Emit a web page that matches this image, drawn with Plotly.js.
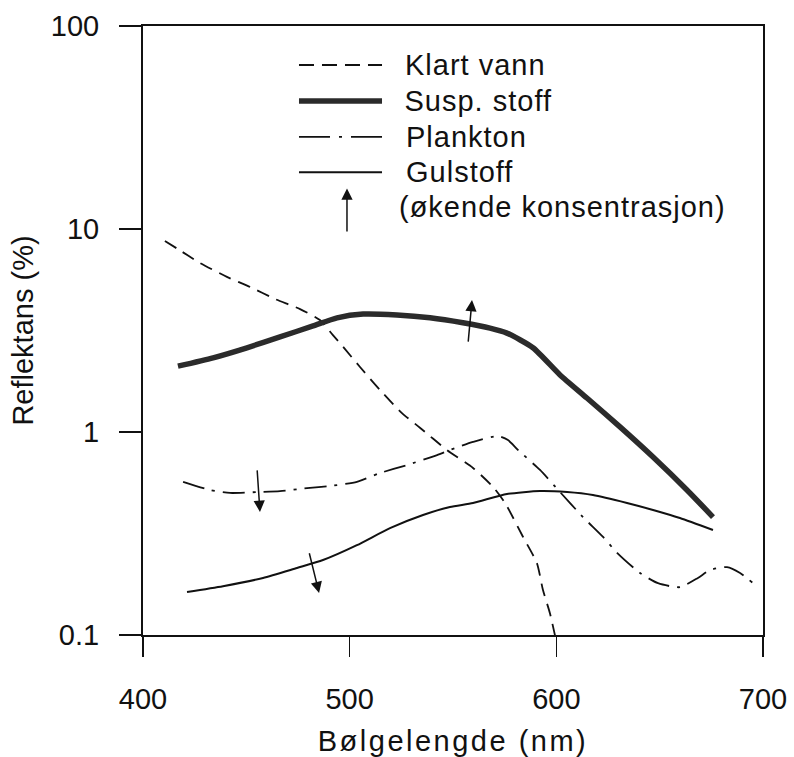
<!DOCTYPE html>
<html>
<head>
<meta charset="utf-8">
<script src="https://cdn.plot.ly/plotly-3.0.1.min.js"></script>
<style>
html,body{margin:0;padding:0;background:#fff;}
#chart{width:794px;height:757px;}
#chart .g-xtitle text{letter-spacing:2.5px;}
#chart .annotation-text{letter-spacing:1px;}
</style>
</head>
<body>
<div id="chart"></div>
<script>
// Klart vann (clear water)
const klartX = [410.6, 416.9, 427.6, 440.6, 451.8, 463.9, 476.0, 485.6, 491.9, 496.8, 505.0, 514.7, 525.3, 534.0, 547.1, 559.7, 569.4, 575.2, 583.9, 590.6, 593.5, 596.9, 599.5];
const klartY = [8.73, 7.96, 6.8, 5.81, 5.18, 4.52, 4.03, 3.56, 3.0, 2.63, 2.09, 1.61, 1.24, 1.05, 0.815, 0.665, 0.536, 0.447, 0.304, 0.226, 0.167, 0.128, 0.098];
// Susp. stoff (suspended matter)
const suspX = [416.9, 433.9, 450.3, 466.3, 482.3, 493.9, 506.5, 522.9, 538.9, 554.8, 567.9, 576.1, 588.7, 601.8, 614.8, 630.8, 646.8, 663.2, 675.8];
const suspY = [2.11, 2.32, 2.60, 2.94, 3.33, 3.65, 3.81, 3.77, 3.65, 3.45, 3.25, 3.07, 2.60, 1.91, 1.47, 1.06, 0.753, 0.518, 0.381];
// Plankton
const planktonX = [419.4, 432.4, 442.1, 455.2, 466.3, 479.4, 490.5, 503.5, 514.7, 527.7, 542.3, 548.5, 559.7, 571.8, 576.6, 581.5, 592.1, 601.8, 612.9, 622.6, 629.4, 640.5, 649.2, 659.8, 668.5, 674.4, 682.6, 688.9, 695.2];
const planktonY = [0.568, 0.518, 0.501, 0.506, 0.511, 0.529, 0.542, 0.568, 0.628, 0.687, 0.770, 0.815, 0.893, 0.955, 0.913, 0.815, 0.650, 0.506, 0.381, 0.304, 0.254, 0.202, 0.180, 0.172, 0.191, 0.209, 0.216, 0.202, 0.180];
// Gulstoff (yellow substance)
const gulX = [421.3, 438.7, 458.1, 474.5, 487.1, 503.5, 519.5, 535.5, 548.5, 559.7, 576.1, 592.1, 605.2, 617.7, 634.2, 646.8, 659.8, 675.8];
const gulY = [0.163, 0.174, 0.191, 0.214, 0.234, 0.277, 0.336, 0.390, 0.427, 0.447, 0.495, 0.512, 0.506, 0.489, 0.447, 0.413, 0.377, 0.329];

// Arrows showing increasing concentration: [tailX, tailY, headX, headY]
const arrowSusp = [557.3, 2.74, 559.2, 4.47];
const arrowPlankton = [455.2, 0.658, 456.6, 0.404];
const arrowGul = [480.3, 0.257, 485.2, 0.161];

// Legend labels
const legendLabels = ["Klart vann", "Susp. stoff", "Plankton", "Gulstoff", "(økende konsentrasjon)"];

const xTicks = [400, 500, 600, 700];
const yTicks = [0.1, 1, 10, 100];
const yTickText = ["0.1", "1", "10", "100"];

const FONT = "'Liberation Sans', Arial, Helvetica, sans-serif";
const lineStyles = [
  {color: '#111', width: 1.8, dash: '13px,8px'},
  {color: '#2b2b2b', width: 5.5, dash: 'solid'},
  {color: '#111', width: 1.8, dash: '22px,8px,3px,8px'},
  {color: '#111', width: 2, dash: 'solid'}
];
const legendDash = ['15px,8px', 'solid', '31px,9px,3px,9px,60px', 'solid'];

const seriesX = [klartX, suspX, planktonX, gulX];
const seriesY = [klartY, suspY, planktonY, gulY];
const traces = seriesX.map((xs, i) => ({
  type: 'scatter', mode: 'lines', x: xs, y: seriesY[i], name: legendLabels[i],
  line: Object.assign({shape: 'spline', smoothing: 0.6}, lineStyles[i]),
  showlegend: false, hoverinfo: 'x+y'
}));

// Custom legend (drawn in paper coords)
const legX0 = 0.2516, legX1 = 0.3855, legTextX = 0.428;
const legRows = [0.936, 0.877, 0.818, 0.760, 0.703];
const shapes = [];
const annotations = [];
for (let i = 0; i < 4; i++) {
  shapes.push({type: 'line', xref: 'paper', yref: 'paper', x0: legX0, x1: legX1, y0: legRows[i], y1: legRows[i],
    line: {color: lineStyles[i].color, width: lineStyles[i].width, dash: legendDash[i]}});
}
for (let i = 0; i < legendLabels.length; i++) {
  annotations.push({xref: 'paper', yref: 'paper', x: legTextX, y: legRows[i], xanchor: 'left', yanchor: 'middle',
    text: legendLabels[i], showarrow: false, font: {family: FONT, size: 29, color: '#111'}});
}
const arrowStyle = {text: '', showarrow: true, arrowhead: 2, arrowsize: 1.5, arrowwidth: 1.5, arrowcolor: '#111'};
// legend arrow
annotations.push(Object.assign({xref: 'paper', yref: 'paper', axref: 'paper', ayref: 'paper', x: 0.329, y: 0.733, ax: 0.329, ay: 0.660}, arrowStyle));
// data arrows
[arrowSusp, arrowPlankton, arrowGul].forEach(a => {
  annotations.push(Object.assign({xref: 'x', yref: 'y', axref: 'x', ayref: 'y', x: a[2], y: Math.log10(a[3]), ax: a[0], ay: Math.log10(a[1])}, arrowStyle));
});

const layout = {
  width: 794, height: 757,
  margin: {l: 143, r: 31, t: 26, b: 122},
  paper_bgcolor: '#fff', plot_bgcolor: '#fff',
  showlegend: false,
  font: {family: FONT, size: 29, color: '#111'},
  xaxis: {
    range: [400, 700], tickvals: xTicks, ticktext: xTicks.map(String),
    showgrid: false, zeroline: false, showline: true, mirror: true, linecolor: '#111', linewidth: 2,
    ticks: 'outside', ticklen: 20, tickwidth: 1.6, tickcolor: '#111', ticklabelstandoff: 17,
    tickfont: {family: FONT, size: 29, color: '#111'},
    title: {text: 'Bølgelengde (nm)', font: {family: FONT, size: 29, color: '#111'}, standoff: 21}
  },
  yaxis: {
    type: 'log', range: [-1, 2], tickvals: yTicks, ticktext: yTickText,
    showgrid: false, zeroline: false, showline: true, mirror: true, linecolor: '#111', linewidth: 2,
    ticks: 'outside', ticklen: 22, tickwidth: 1.6, tickcolor: '#111', ticklabelstandoff: 14,
    tickfont: {family: FONT, size: 29, color: '#111'},
    title: {text: 'Reflektans (%)', font: {family: FONT, size: 29, color: '#111'}, standoff: 9}
  },
  shapes: shapes,
  annotations: annotations
};

Plotly.newPlot('chart', traces, layout, {staticPlot: true, displayModeBar: false});
</script>
</body>
</html>
